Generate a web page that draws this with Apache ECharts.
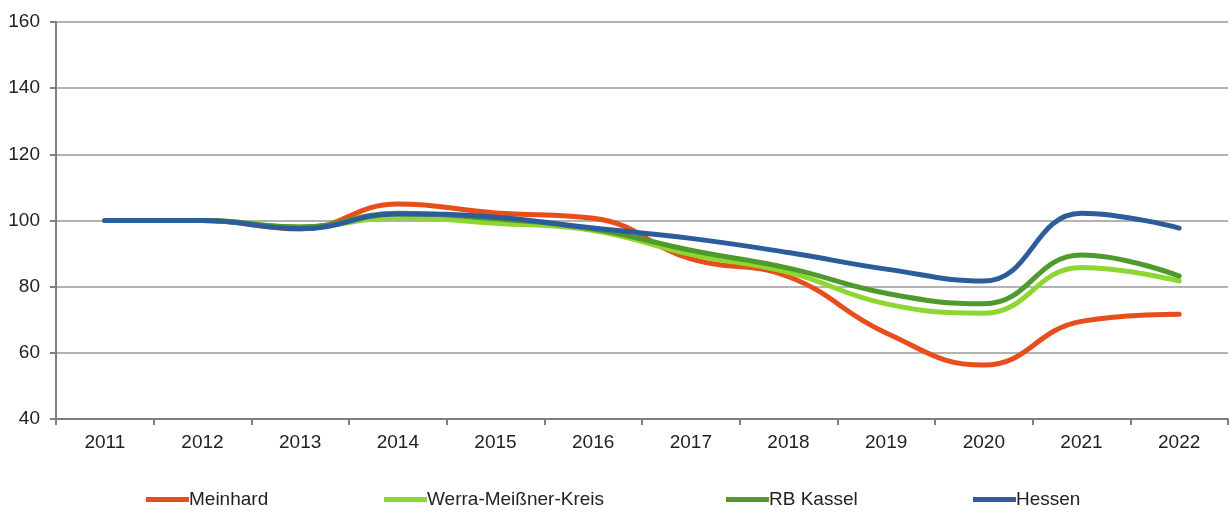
<!DOCTYPE html>
<html>
<head>
<meta charset="utf-8">
<script src="https://cdn.jsdelivr.net/npm/echarts@6/dist/echarts.min.js"></script>
<style>
  html,body{margin:0;padding:0;background:#fff;}
  #main{width:1230px;height:516px;}
</style>
</head>
<body>
<div id="main"></div>
<script>
var years=['2011','2012','2013','2014','2015','2016','2017','2018','2019','2020','2021','2022'];
var meinhard=[100,100,97.5,105,102.3,100.7,88.4,83,66,56.3,69.5,71.7];
var werra=[100,100,98,100.8,99.2,97,89.8,84.3,74.8,72,85.8,81.7];
var rbKassel=[100,100,98,102.2,100.5,97.4,91,85.6,78,74.8,89.6,83.2];
var hessen=[100,100,97.5,102,101,97.7,94.6,90.3,85.3,81.7,102.2,97.7];
var yTicks=[40,60,80,100,120,140,160];

var fontFam="'Liberation Sans', Arial, sans-serif";
var names=['Meinhard','Werra-Meißner-Kreis','RB Kassel','Hessen'];
var colors=['#E84D1C','#8ED631','#4E9A2C','#2D5C9A'];
var legendLeft=[146,384,726,973];

function mkSeries(name,data,color){
  return {
    name:name,
    type:'line',
    data:data,
    smooth:0.45,
    symbol:'none',
    lineStyle:{width:5,color:color,cap:'round'},
    itemStyle:{color:color}
  };
}

var legends=[];
for (var i=0;i<names.length;i++){
  legends.push({
    data:[names[i]],
    left:legendLeft[i],
    top:490,
    itemWidth:43,
    itemHeight:5,
    itemGap:0,
    icon:'rect',
    padding:0,
    textStyle:{fontFamily:fontFam,fontSize:19,color:'#222',padding:[0,0,0,-5]}
  });
}

var option={
  animation:false,
  backgroundColor:'#fff',
  grid:{left:56,right:2,top:22,bottom:97},
  legend:legends,
  xAxis:{
    type:'category',
    data:years,
    boundaryGap:true,
    axisLine:{lineStyle:{color:'#7f7f7f',width:2}},
    axisTick:{show:true,length:6,lineStyle:{color:'#7f7f7f',width:2}},
    axisLabel:{fontFamily:fontFam,fontSize:19,color:'#222',margin:14}
  },
  yAxis:{
    type:'value',
    min:yTicks[0],
    max:yTicks[yTicks.length-1],
    interval:20,
    axisLine:{show:true,lineStyle:{color:'#7f7f7f',width:2}},
    axisTick:{show:true,length:6,lineStyle:{color:'#7f7f7f',width:2}},
    splitLine:{lineStyle:{color:'#9a9a9a',width:1.5}},
    axisLabel:{fontFamily:fontFam,fontSize:19,color:'#222',margin:16}
  },
  series:[
    mkSeries(names[0],meinhard,colors[0]),
    mkSeries(names[1],werra,colors[1]),
    mkSeries(names[2],rbKassel,colors[2]),
    mkSeries(names[3],hessen,colors[3])
  ]
};

var chart=echarts.init(document.getElementById('main'));
chart.setOption(option);
</script>
</body>
</html>
